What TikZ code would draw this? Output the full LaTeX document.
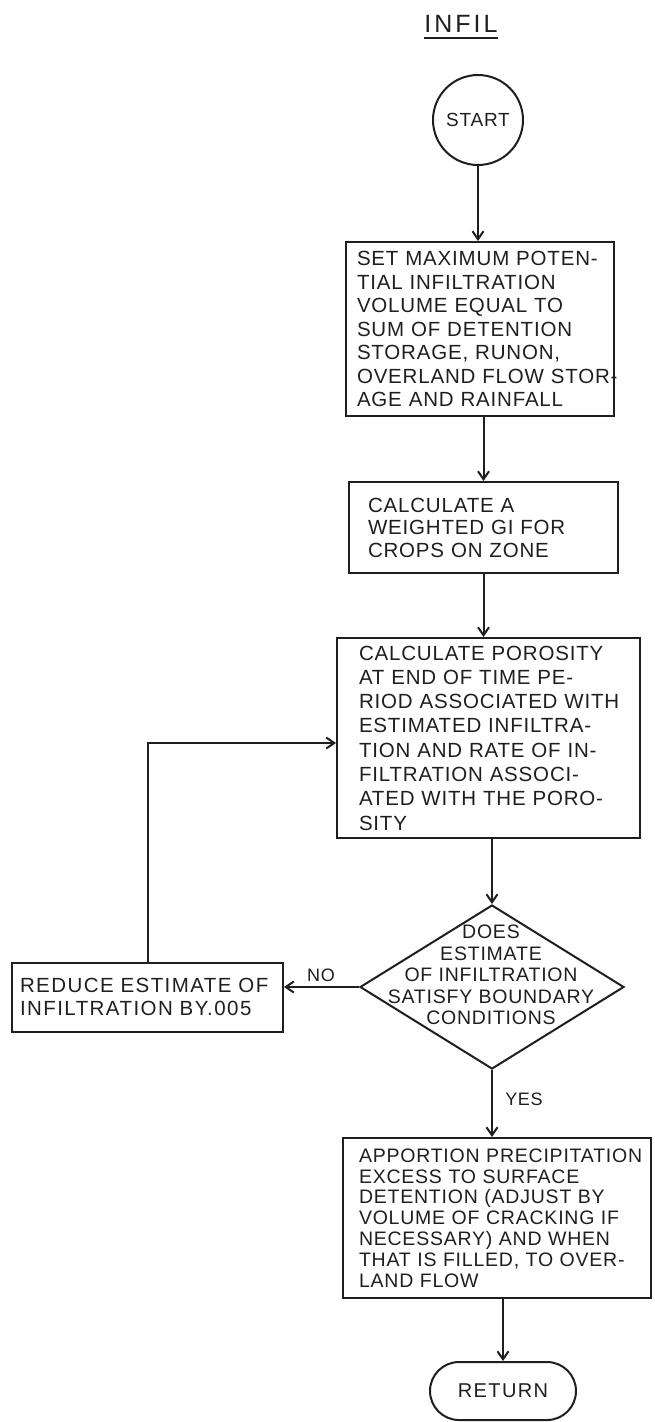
\documentclass[tikz,border=0pt]{standalone}
\usepackage{fontspec}
\newfontfamily\lettA[LetterSpace=4]{Liberation Sans}
\newfontfamily\lettB[LetterSpace=7]{Liberation Sans}
\newfontfamily\lettC[LetterSpace=12]{Liberation Sans}
\usetikzlibrary{arrows.meta,shapes.geometric,shapes.misc}
\begin{document}
\begin{tikzpicture}[x=1pt,y=-1pt,
  ink/.style={draw=black!88, line width=2pt},
  stepbox/.style={ink, rectangle, align=left, inner ysep=0pt, text=black!88},
  flow/.style={ink, -{Straight Barb[length=8pt,width=11pt]}},
  tag/.style={inner sep=0pt, text=black!88, font=\lettA\fontsize{18}{20}\selectfont}]
\useasboundingbox[fill=white] (0,0) rectangle (655,1422);

% title
\node[inner sep=0pt, text=black!88, font=\lettC\fontsize{25}{25}\selectfont] (ttl) at (461,24) {INFIL};
\draw[ink] ([yshift=-5pt]ttl.south west) -- ([yshift=-5pt]ttl.south east);

% terminals
\node[ink, circle, minimum size=90pt, inner sep=0pt, text=black!88,
      font=\lettA\fontsize{19}{19}\selectfont] (start) at (478,120) {START};
\node[ink, rounded rectangle, minimum width=146pt, minimum height=58pt, inner sep=0pt,
      text=black!88, font=\lettB\fontsize{20}{20}\selectfont] (ret) at (503,1391) {RETURN};

% process steps
\node[stepbox, minimum width=268pt, minimum height=174pt, text width=246pt, inner xsep=11pt,
      font=\lettA\fontsize{20.5}{23.5}\selectfont] (b1) at (480,329)
  {\mbox{SET MAXIMUM POTEN-}\\ \mbox{TIAL INFILTRATION}\\ \mbox{VOLUME EQUAL TO}\\
   \mbox{SUM OF DETENTION}\\ \mbox{STORAGE, RUNON,}\\ \mbox{OVERLAND FLOW STOR-}\\
   \mbox{AGE AND RAINFALL}};

\node[stepbox, minimum width=269pt, minimum height=91pt, text width=231pt, inner xsep=19pt,
      font=\lettA\fontsize{20.5}{22.5}\selectfont] (b2) at (483.5,527.5)
  {\mbox{CALCULATE A}\\ \mbox{WEIGHTED GI FOR}\\ \mbox{CROPS ON ZONE}};

\node[stepbox, minimum width=303pt, minimum height=200pt, text width=259pt, inner xsep=22pt,
      font=\lettA\fontsize{20.5}{24.3}\selectfont] (b3) at (488.5,738)
  {\mbox{CALCULATE POROSITY}\\ \mbox{AT END OF TIME PE-}\\ \mbox{RIOD ASSOCIATED WITH}\\
   \mbox{ESTIMATED INFILTRA-}\\ \mbox{TION AND RATE OF IN-}\\ \mbox{FILTRATION ASSOCI-}\\
   \mbox{ATED WITH THE PORO-}\\ \mbox{SITY}};

\node[stepbox, minimum width=271pt, minimum height=69pt, text width=255pt, inner xsep=8pt,
      font=\lettB\fontsize{20.5}{23}\selectfont] (red) at (147.5,997)
  {\mbox{REDUCE ESTIMATE OF}\\ \mbox{INFILTRATION BY.005}};

\node[stepbox, minimum width=308pt, minimum height=160pt, text width=276pt, inner xsep=16pt,
      font=\lettA\fontsize{19.5}{20.8}\selectfont] (b4) at (497,1218)
  {\mbox{APPORTION PRECIPITATION}\\ \mbox{EXCESS TO SURFACE}\\ \mbox{DETENTION (ADJUST BY}\\
   \mbox{VOLUME OF CRACKING IF}\\ \mbox{NECESSARY) AND WHEN}\\ \mbox{THAT IS FILLED, TO OVER-}\\
   \mbox{LAND FLOW}};

% decision
\node[ink, diamond, minimum width=264pt, minimum height=164pt, inner sep=0pt] (dia) at (492,987) {};
\node[inner sep=0pt, align=center, text=black!88, font=\lettA\fontsize{19.5}{21.5}\selectfont]
  (q) at (491,975) {DOES\\ ESTIMATE\\ OF INFILTRATION\\ SATISFY BOUNDARY\\ CONDITIONS};

% labels
\node[tag] (no) at (321,975) {NO};
\node[tag] (yes) at (524,1099) {YES};

% connectors
\draw[flow] (start.south) -- (start.south |- b1.north);
\draw[flow] (b1.south -| b2.north) -- (b2.north);
\draw[flow] (b2.south) -- (b2.south |- b3.north);
\draw[flow] (b3.south -| dia.north) -- (dia.north);
\draw[flow] (dia.south) -- (dia.south |- b4.north);
\draw[flow] (b4.south -| ret.north) -- (ret.north);
\draw[flow] (dia.west) -- (dia.west -| red.east);
\draw[flow] (red.north) |- ([yshift=-5pt]b3.west);
\end{tikzpicture}
\end{document}
